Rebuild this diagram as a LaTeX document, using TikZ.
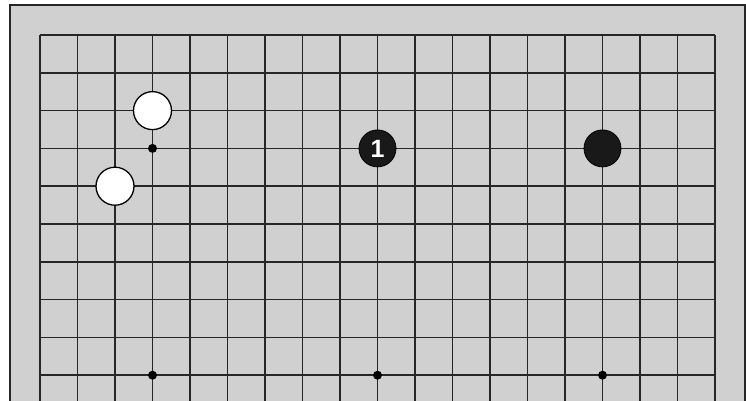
\documentclass[tikz,border=0pt]{standalone}
\usepackage{fontspec}
\setsansfont{Liberation Sans}
\definecolor{boardgray}{RGB}{208,208,208}
\newcommand{\stonefont}{\sffamily\bfseries\fontsize{25}{25}\selectfont}
\tikzset{
  gridline/.style={line width=1.6pt, black!85},
  white stone/.style={circle, draw=black, line width=1.3pt, fill=white, minimum size=38pt, inner sep=0pt},
  black stone/.style={circle, draw=black, fill=black!90, line width=0.8pt, minimum size=37pt, inner sep=0pt, text=white},
  hoshi/.style={circle, fill=black, minimum size=9pt, inner sep=0pt}
}
\begin{document}
\begin{tikzpicture}[x=1pt,y=-1pt]
\useasboundingbox (0,0) rectangle (746,400);
\fill[white] (0,0) rectangle (746,400);
\clip (0,0) rectangle (746,400);
\fill[boardgray] (10,5) rectangle (745,410);
\draw[line width=2pt, black!85] (10,410) -- (10,5) -- (745,5) -- (745,410);
\foreach \i in {0,...,18} {
  \draw[gridline] (40+37.5*\i,35) -- (40+37.5*\i,410);
}
\foreach \j in {0,...,9} {
  \draw[gridline] (40,35+37.8*\j) -- (715,35+37.8*\j);
}
\foreach \i/\j [count=\k] in {3/3,9/3,15/3,3/9,9/9,15/9} {
  \node[hoshi] (h\k) at (40+37.5*\i,35+37.8*\j) {};
}
\node[white stone] (w1) at (40+37.5*3,35+37.8*2) {};
\node[white stone] (w2) at (40+37.5*2,35+37.8*4) {};
\node[black stone] (b1) at (40+37.5*9,35+37.8*3) {\stonefont 1};
\node[black stone] (b2) at (40+37.5*15,35+37.8*3) {};
\end{tikzpicture}
\end{document}
